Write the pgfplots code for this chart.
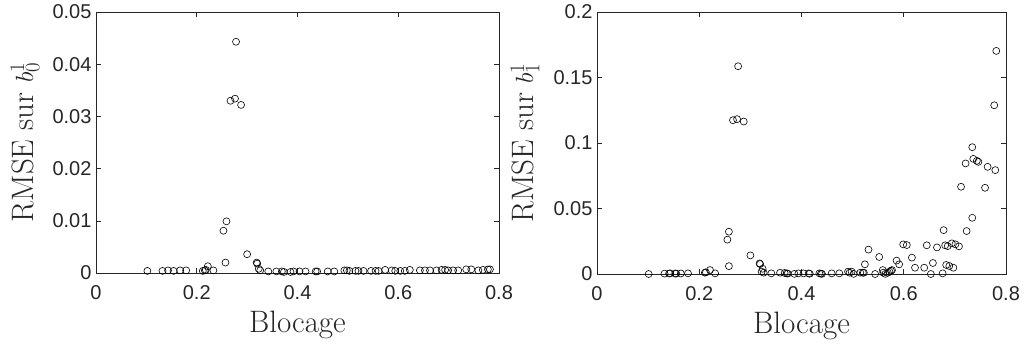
\documentclass[border=0pt]{standalone}
\usepackage{pgfplots}
\pgfplotsset{compat=1.18}
\usepackage{fontspec}
\newfontfamily\arial{Liberation Sans}
\definecolor{axgray}{gray}{0.15}
\pgfplotsset{
  mstyle/.style={
    scale only axis,
    xmin=0, xmax=0.8,
    ymin=0,
    scaled y ticks=false,
    scaled x ticks=false,
    axis line style={axgray, line width=0.6pt},
    every tick/.style={axgray, line width=0.6pt},
    major tick length=5pt,
    tick align=inside,
    xtick={0,0.2,0.4,0.6,0.8},
    xticklabels={0,0.2,0.4,0.6,0.8},
    tick label style={font=\arial\fontsize{20}{22}\selectfont, text=axgray},
    xticklabel style={yshift=-9pt},
    yticklabel style={xshift=-1pt},
    label style={font=\fontsize{31}{34}\selectfont, text=axgray},
    xlabel style={at={(axis description cs:0.5,-0.227)}, anchor=base},
    ylabel style={at={(axis description cs:-0.156,0.5)}, anchor=base, rotate=0},
    xlabel={Blocage},
  },
  dots/.style={only marks, mark=o, mark size=3.5pt, mark options={black, line width=0.6pt}},
}
\begin{document}
\begin{tikzpicture}
\path[use as bounding box] (0,0) rectangle (1024pt,343pt);
\begin{axis}[mstyle, at={(96pt,70pt)}, anchor=south west, width=403pt, height=261pt,
  ymax=0.05, ytick={0,0.01,0.02,0.03,0.04,0.05},
  yticklabels={0,0.01,0.02,0.03,0.04,0.05},
  ylabel={RMSE sur $b_0^1$}]
\addplot[dots] table {
0.102 0.0004
0.132 0.0004
0.143 0.0005
0.154 0.0004
0.167 0.0005
0.179 0.0005
0.212 0.0004
0.216 0.0005
0.222 0.0013
0.218 0.0006
0.233 0.0005
0.253 0.0081
0.257 0.0020
0.259 0.0099
0.267 0.0330
0.276 0.0334
0.278 0.0443
0.288 0.0322
0.300 0.0036
0.319 0.0020
0.320 0.0018
0.323 0.0008
0.326 0.0005
0.342 0.0003
0.358 0.0003
0.369 0.0003
0.373 0.0002
0.386 0.0002
0.392 0.0003
0.404 0.0003
0.416 0.0003
0.436 0.0003
0.439 0.0003
0.460 0.0003
0.473 0.0003
0.493 0.0005
0.498 0.0005
0.503 0.0004
0.515 0.0004
0.521 0.0004
0.531 0.0004
0.546 0.0004
0.555 0.0004
0.561 0.0004
0.574 0.0006
0.587 0.0005
0.594 0.0004
0.604 0.0004
0.613 0.0004
0.623 0.0006
0.643 0.0005
0.653 0.0005
0.663 0.0005
0.676 0.0005
0.686 0.0006
0.693 0.0006
0.699 0.0005
0.709 0.0005
0.719 0.0005
0.735 0.0007
0.745 0.0007
0.759 0.0005
0.768 0.0006
0.778 0.0007
0.782 0.0007
};
\end{axis}
\begin{axis}[mstyle, at={(597pt,69pt)}, anchor=south west, width=409pt, height=262pt,
  ymax=0.2, ytick={0,0.05,0.1,0.15,0.2},
  yticklabels={0,0.05,0.1,0.15,0.2},
  ylabel={RMSE sur $b_1^1$}]
\addplot[dots] table {
0.101 0.0000
0.132 0.0003
0.141 0.0004
0.143 0.0005
0.153 0.0004
0.155 0.0003
0.164 0.0004
0.178 0.0005
0.211 0.0010
0.213 0.0013
0.221 0.0030
0.231 0.0005
0.258 0.0060
0.255 0.0262
0.258 0.0323
0.266 0.1174
0.274 0.1182
0.276 0.1586
0.287 0.1164
0.300 0.0142
0.318 0.0081
0.319 0.0076
0.324 0.0040
0.322 0.0018
0.326 0.0010
0.341 0.0005
0.358 0.0010
0.367 0.0008
0.371 0.0005
0.373 0.0003
0.386 0.0001
0.394 0.0005
0.404 0.0005
0.414 0.0005
0.416 0.0002
0.435 0.0005
0.438 0.0003
0.440 0.0001
0.459 0.0005
0.474 0.0005
0.491 0.0018
0.494 0.0010
0.498 0.0018
0.502 0.0001
0.515 0.0010
0.520 0.0010
0.522 0.0010
0.524 0.0074
0.531 0.0186
0.544 0.0000
0.552 0.0130
0.559 0.0030
0.560 0.0010
0.564 0.0001
0.569 0.0010
0.572 0.0018
0.575 0.0025
0.577 0.0030
0.586 0.0102
0.591 0.0074
0.599 0.0226
0.606 0.0221
0.616 0.0125
0.622 0.0048
0.640 0.0048
0.645 0.0219
0.653 0.0000
0.657 0.0084
0.665 0.0203
0.676 0.0005
0.678 0.0335
0.681 0.0219
0.683 0.0069
0.686 0.0213
0.689 0.0061
0.694 0.0234
0.697 0.0048
0.701 0.0226
0.708 0.0211
0.712 0.0666
0.721 0.0844
0.723 0.0328
0.734 0.0968
0.734 0.0429
0.736 0.0879
0.743 0.0864
0.746 0.0856
0.759 0.0658
0.764 0.0818
0.777 0.1288
0.779 0.0793
0.781 0.1703
};
\end{axis}
\end{tikzpicture}
\end{document}
